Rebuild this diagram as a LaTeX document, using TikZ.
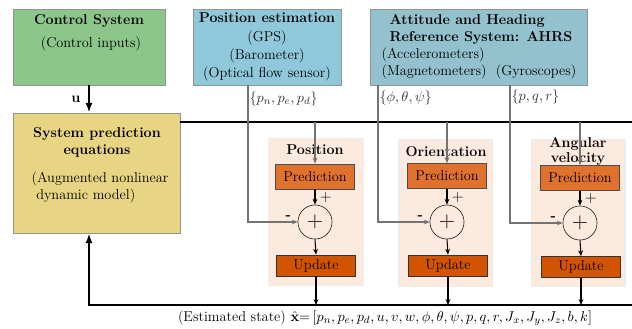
\documentclass[tikz,border=0pt]{standalone}
\usepackage{amsmath}
\usepackage{amssymb}
\usepackage{tikz}
\usetikzlibrary{arrows.meta}
\usetikzlibrary{positioning}

\definecolor{ctrlgreen}{RGB}{141,198,139}
\definecolor{posblue}{RGB}{143,200,218}
\definecolor{ahrsblue}{RGB}{147,193,205}
\definecolor{sysyellow}{RGB}{232,213,131}
\definecolor{peach}{RGB}{253,234,222}
\definecolor{predorange}{RGB}{224,114,46}
\definecolor{updorange}{RGB}{211,84,0}

\newcommand{\diagfont}{\fontsize{11}{13}\selectfont}

\tikzset{
	block/.style={draw=gray!85, semithick, minimum height=2.05cm, inner sep=0pt},
	stage/.style={draw=gray!15, semithick, fill=peach, minimum height=3.97cm, minimum width=2.56cm},
	predbox/.style={draw=black!70, fill=predorange, minimum width=2.13cm, minimum height=0.68cm, inner sep=0pt},
	updbox/.style={draw=black!80, fill=updorange, minimum width=2.13cm, minimum height=0.57cm, inner sep=0pt},
	sumnode/.style={draw, circle, minimum size=0.92cm, inner sep=0pt},
	feed/.style={draw=black!55, thick, -{Stealth[length=1.6mm,width=1.3mm]}},
	flow/.style={thick, -{Stealth[length=1.6mm,width=1.3mm]}},
	bus/.style={line width=2pt},
	busarrow/.style={line width=2pt, -{Latex[length=2.6mm,width=1.9mm]}},
	boldtext/.style={font=\diagfont\bfseries},
}

\begin{document}
\begin{tikzpicture}[x=0.027cm,y=-0.027cm,font=\diagfont]
	\useasboundingbox (0,0) rectangle (632,329);

	%Blocks at the top
	\node [block, fill=ctrlgreen, minimum width=4.1cm] (ctrl) at (89,47) {};
	\node [boldtext] (ctrltitle) at (89,21) {Control System};
	\node (ctrlinput) at (91,44) {(Control inputs)};

	\node [block, fill=posblue, minimum width=4.0cm] (pos) at (267,47) {};
	\node [align=center] (postext) at (267,47) {\textbf{Position estimation}\\[1pt](GPS)\\[1pt](Barometer)\\[1pt](Optical flow sensor)};

	\node [block, fill=ahrsblue, minimum width=5.86cm] (ahrs) at (478.5,47) {};
	\node [anchor=west, align=left, boldtext] (ahrstitle) at (385,29) {Attitude and Heading\\Reference System: AHRS};
	\node [anchor=west, align=left] (ahrstext) at (377,63) {(Accelerometers)\\ (Magnetometers) \ (Gyroscopes)};

	%System model at the left
	\node [block, fill=sysyellow, minimum width=4.51cm, minimum height=3.24cm] (sys) at (96.5,173) {};
	\node [align=center, boldtext] (systitle) at (97,142) {System prediction\\equations};
	\node [align=left] (systext) at (100,187) {(Augmented nonlinear\\ \ dynamic model)};

	%Control input u
	\draw [busarrow] (ctrl.south) -- (ctrl.south |- sys.north)
	node [midway, left=0.8mm] {$\mathbf{u}$};

	%Stages: position, orientation, angular velocity
	\node [stage] (stagep) at (315.5,212) {};
	\node [stage, minimum width=2.54cm] (stageo) at (445,212.5) {};
	\node [stage, minimum width=2.54cm] (stagea) at (578,212.5) {};

	\node [boldtext] (titlep) at (315,150) {Position};
	\node [boldtext] (titleo) at (446,152) {Orientation};
	\node [boldtext, anchor=south, inner sep=0pt] (titlea) at (578,151) {Angular};
	\node [boldtext, anchor=base, inner sep=0pt] (titleb) at (578,162) {velocity};

	\node [predbox] (predp) at (315,176.5) {Prediction};
	\node [predbox] (predo) at (447,176) {Prediction};
	\node [predbox] (preda) at (580,178) {Prediction};

	\node [sumnode] (sump) at (315,222) {\LARGE$+$};
	\node [sumnode] (sumo) at (447,222) {\LARGE$+$};
	\node [sumnode] (suma) at (580,223) {\LARGE$+$};

	\node [updbox] (updp) at (316,265.5) {Update};
	\node [updbox] (updo) at (448,265.5) {Update};
	\node [updbox] (upda) at (581,267) {Update};

	%Top and bottom bus lines
	\coordinate (topleft) at (180,122);
	\coordinate (topright) at (632,122);
	\coordinate (botright) at (632,305);
	\draw [bus] (topleft) -- (topright);
	\draw [busarrow] (botright) -| (ctrl.south |- sys.south);

	%Sensor measurements
	\coordinate (gpsout) at (248,85);
	\coordinate (attout) at (378,85);
	\coordinate (gyrout) at (510,85);
	\draw [feed] (gpsout) |- (sump.west);
	\draw [feed] (attout) |- (sumo.west);
	\draw [feed] (gyrout) |- (suma.west);
	\node [anchor=west, text=black!80, inner sep=1pt] (gpslabel) at (248,99) {$\{p_n,p_e,p_d\}$};
	\node [anchor=west, text=black!80, inner sep=1pt] (attlabel) at (378,98) {$\{\phi,\theta,\psi\}$};
	\node [anchor=west, text=black!80, inner sep=1pt] (gyrlabel) at (510,97) {$\{p,q,r\}$};

	%From the bus to each prediction
	\draw [feed] (predp.north |- topleft) -- (predp.north);
	\draw [feed] (predo.north |- topleft) -- (predo.north);
	\draw [feed] (preda.north |- topleft) -- (preda.north);

	%Prediction to sum to update
	\foreach \s in {p,o,a} {
		\draw [flow] (pred\s.south) -- (sum\s.north)
		node [pos=0.55, right=0pt, font=\large] {$+$};
		\node [above left=-0.5mm and 0.6mm of sum\s.west, boldtext] (minus\s) {-};
		\draw [flow] (sum\s.south) -- (upd\s.north);
		\draw [flow] (upd\s.south) -- (upd\s.south |- botright);
	}

	%Estimated state
	\node (state) at (385,318) {(Estimated state) $\hat{\mathbf{x}}{=}\,[p_n,p_e,p_d,u,v,w,\phi,\theta,\psi,p,q,r,J_x,J_y,J_z,b,k]$};
\end{tikzpicture}
\end{document}
